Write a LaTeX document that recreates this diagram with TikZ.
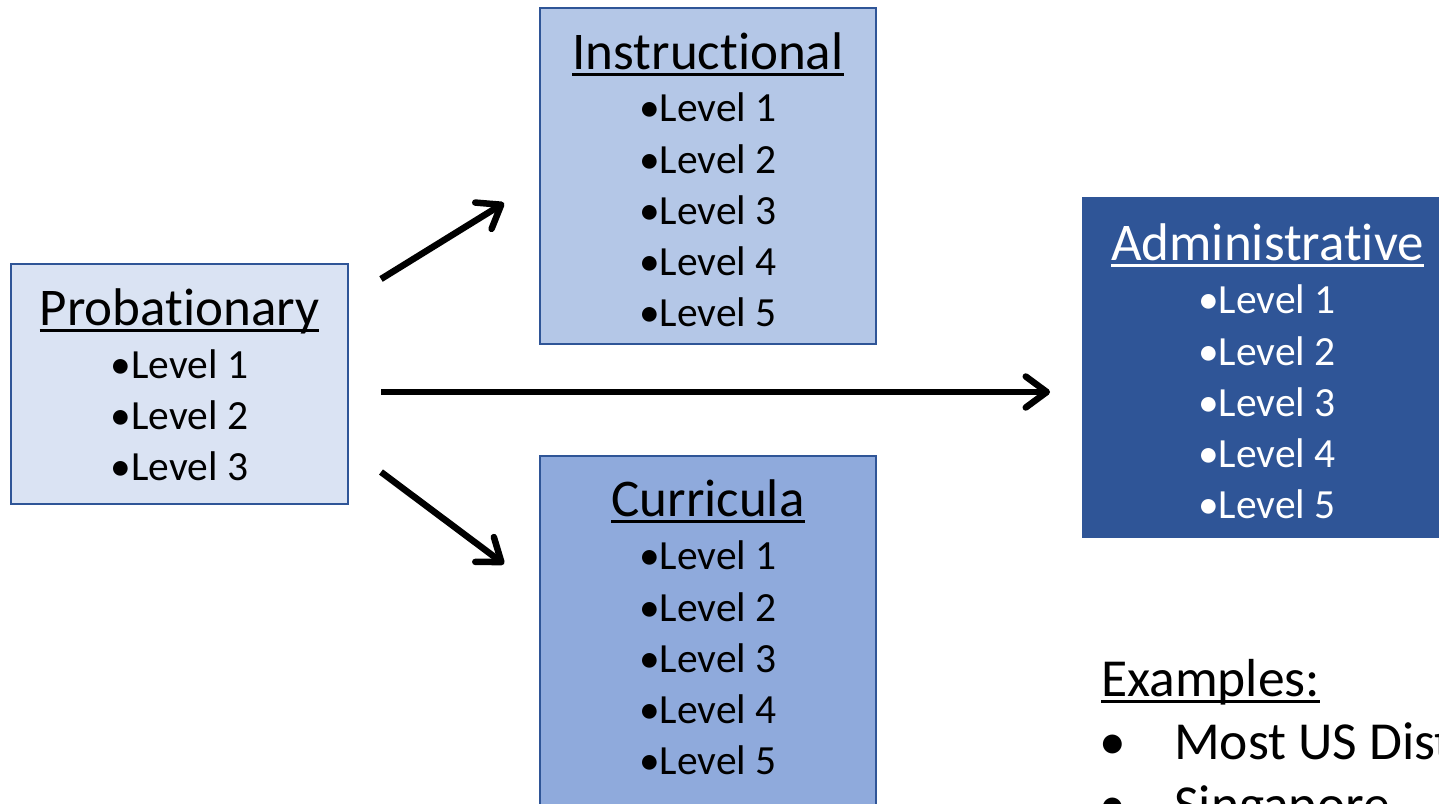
\documentclass[tikz,border=0pt]{standalone}
\usepackage{fontspec}
\usepackage{graphicx}
\setmainfont{Carlito}[Ligatures=CommonOff]
\usetikzlibrary{arrows.meta}
\definecolor{probfill}{HTML}{DAE3F3}
\definecolor{instfill}{HTML}{B4C7E7}
\definecolor{currfill}{HTML}{8FAADC}
\definecolor{adminfill}{HTML}{2F5597}
\definecolor{boxline}{HTML}{2F5597}
\newcommand\myul[1]{\setbox0\hbox{#1}\rlap{\rule[-6.5pt]{\wd0}{3pt}}\box0}
\tikzset{
  panel/.style={draw=boxline, line width=2pt, rectangle, inner sep=0pt},
  ttl/.style={anchor=base, inner sep=0pt, font=\fontsize{53}{63}\selectfont},
  lvl/.style={anchor=base, inner sep=0pt, font=\fontsize{41.5}{50}\selectfont},
  extxt/.style={inner sep=0pt, font=\fontsize{53.5}{63}\selectfont},
  flow/.style={line width=6.5pt, -{Straight Barb[length=21pt, width=31pt, round]}}
}
\begin{document}
\begin{tikzpicture}[x=1pt, y=-1pt]
\useasboundingbox (0,0) rectangle (1439,803);
\clip (0,0) rectangle (1439,803);
\fill[white] (0,0) rectangle (1439,803);

% boxes
\node[panel, fill=probfill, minimum width=337pt, minimum height=240pt] (prob) at (179.5,384) {};
\node[panel, fill=instfill, minimum width=336pt, minimum height=336pt] (inst) at (708,176) {};
\node[panel, fill=currfill, minimum width=336pt, minimum height=444pt] (curr) at (708,678) {};
\node[panel, fill=adminfill, minimum width=377pt, minimum height=339pt] (admin) at (1271.5,367.5) {};

% Probationary
\node[ttl] (probT) at (179.5,325) {\myul{Probationary}};
\node[lvl] (p1) at (179.5,378.5) {•Level 1};
\node[lvl] (p2) at (179.5,429.5) {•Level 2};
\node[lvl] (p3) at (179.5,480.5) {•Level 3};

% Instructional
\node[ttl] (instT) at (708,69) {\myul{Instructional}};
\node[lvl] (i1) at (708,121.5) {•Level 1};
\node[lvl] (i2) at (708,173) {•Level 2};
\node[lvl] (i3) at (708,224) {•Level 3};
\node[lvl] (i4) at (708,275) {•Level 4};
\node[lvl] (i5) at (708,326) {•Level 5};

% Curricula
\node[ttl] (currT) at (708,516) {\myul{Curricula}};
\node[lvl] (c1) at (708,569.5) {•Level 1};
\node[lvl] (c2) at (708,621) {•Level 2};
\node[lvl] (c3) at (708,672) {•Level 3};
\node[lvl] (c4) at (708,723) {•Level 4};
\node[lvl] (c5) at (708,774) {•Level 5};

% Administrative
\node[ttl, text=white] (adminT) at (1267.5,260) {\color{white}\myul{Administrative}};
\node[lvl, text=white] (a1) at (1267,313.5) {•Level 1};
\node[lvl, text=white] (a2) at (1267,365) {•Level 2};
\node[lvl, text=white] (a3) at (1267,416) {•Level 3};
\node[lvl, text=white] (a4) at (1267,467) {•Level 4};
\node[lvl, text=white] (a5) at (1267,518) {•Level 5};

% Examples
\node[extxt, anchor=base west] (exT) at (1101,696) {\myul{Examples:}};
\node[extxt, anchor=base] (exB1) at (1112.5,759) {•};
\node[extxt, anchor=base west] (ex1) at (1174,759) {Most US Districts};
\node[extxt, anchor=base] (exB2) at (1112.5,822) {•};
\node[extxt, anchor=base west] (ex2) at (1174,822) {Singapore};

% arrows
\coordinate (s1) at (381,279);
\coordinate (e1) at (504,203);
\coordinate (s2) at (381,392);
\coordinate (e2) at (1050,392);
\coordinate (s3) at (381,472);
\coordinate (e3) at (504,564);
\draw[flow] (s1) -- (e1);
\draw[flow] (s2) -- (e2);
\draw[flow] (s3) -- (e3);
\end{tikzpicture}
\end{document}
